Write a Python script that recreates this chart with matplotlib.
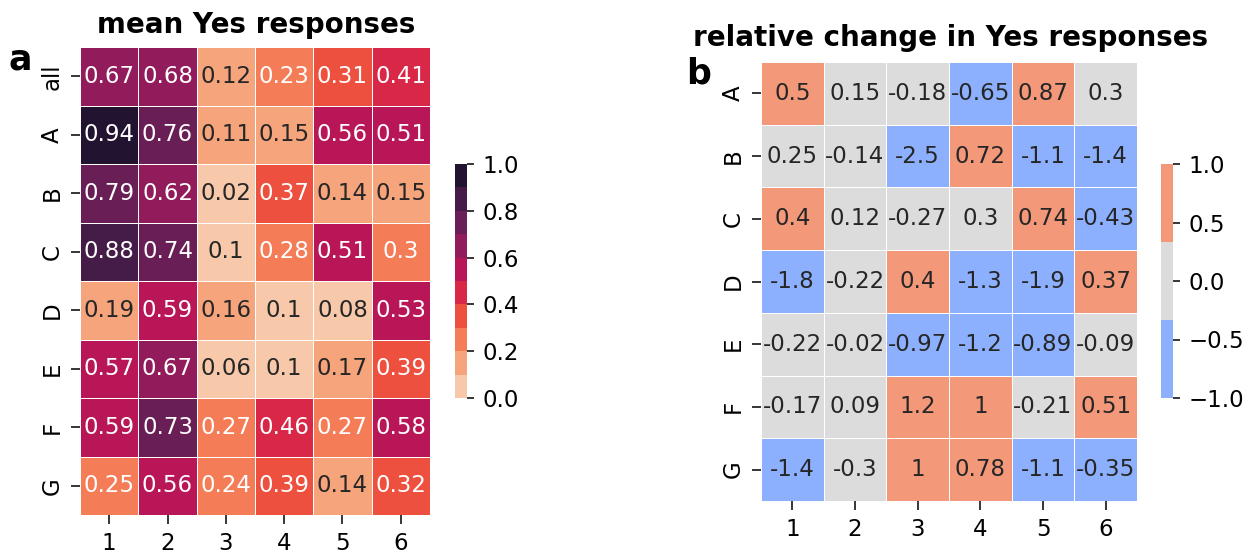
import matplotlib
matplotlib.use("Agg")
import matplotlib.pyplot as plt
import seaborn as sns
import numpy as np
from matplotlib.colors import ListedColormap

# data
cols = ['1', '2', '3', '4', '5', '6']
rows_a = ['all', 'A', 'B', 'C', 'D', 'E', 'F', 'G']
rows_b = ['A', 'B', 'C', 'D', 'E', 'F', 'G']

mean_all = [0.67, 0.68, 0.12, 0.23, 0.31, 0.41]
mean_A = [0.94, 0.76, 0.11, 0.15, 0.56, 0.51]
mean_B = [0.79, 0.62, 0.02, 0.37, 0.14, 0.15]
mean_C = [0.88, 0.74, 0.0999, 0.28, 0.51, 0.2996]
mean_D = [0.19, 0.59, 0.16, 0.0999, 0.08, 0.53]
mean_E = [0.57, 0.67, 0.06, 0.0999, 0.17, 0.39]
mean_F = [0.59, 0.73, 0.27, 0.46, 0.27, 0.58]
mean_G = [0.25, 0.56, 0.24, 0.39, 0.14, 0.32]

rel_A = [0.5, 0.15, -0.18, -0.65, 0.87, 0.3]
rel_B = [0.25, -0.14, -2.5, 0.72, -1.1, -1.4]
rel_C = [0.4, 0.12, -0.27, 0.3, 0.74, -0.43]
rel_D = [-1.8, -0.22, 0.4, -1.3, -1.9, 0.37]
rel_E = [-0.22, -0.02, -0.97, -1.2, -0.89, -0.09]
rel_F = [-0.17, 0.09, 1.2, 1, -0.21, 0.51]
rel_G = [-1.4, -0.3, 1, 0.78, -1.1, -0.35]

mean_yes = np.array([mean_all, mean_A, mean_B, mean_C, mean_D, mean_E, mean_F, mean_G])
rel_change = np.array([rel_A, rel_B, rel_C, rel_D, rel_E, rel_F, rel_G])

W, H = 1255, 554
fig = plt.figure(figsize=(W / 100, H / 100), dpi=100)


def px_axes(x0, y0, x1, y1):
    # pixel box (top-left origin) -> figure axes
    return fig.add_axes([x0 / W, (H - y1) / H, (x1 - x0) / W, (y1 - y0) / H])


ax_a = px_axes(80, 47, 430, 515)
cax_a = px_axes(455, 164, 467, 398)
ax_b = px_axes(761, 62, 1137, 501)
cax_b = px_axes(1161, 164, 1173, 398)

cmap_a = ListedColormap(sns.color_palette("rocket_r", 10))
cmap_b = ListedColormap(sns.color_palette("coolwarm", 3))

sns.heatmap(mean_yes, ax=ax_a, cbar_ax=cax_a, cmap=cmap_a, vmin=0, vmax=1,
            annot=True, annot_kws={'size': 16.5}, linewidths=0.7, linecolor='white',
            xticklabels=cols, yticklabels=rows_a)
sns.heatmap(rel_change, ax=ax_b, cbar_ax=cax_b, cmap=cmap_b, vmin=-1, vmax=1,
            annot=True, annot_kws={'size': 16.5}, linewidths=0.7, linecolor='white',
            xticklabels=cols, yticklabels=rows_b)

for ax, rows, xpad in [(ax_a, rows_a, 6), (ax_b, rows_b, 6)]:
    ax.set_yticklabels(rows, rotation=90, va='center')
    ax.set_xticklabels(cols, rotation=0)
    ax.tick_params(axis='both', labelsize=16.5, length=6.5, width=1.1)
    ax.tick_params(axis='x', pad=xpad)
    ax.tick_params(axis='y', pad=5.5)

for cax in [cax_a, cax_b]:
    cax.tick_params(labelsize=16.5, length=5, width=1.1, pad=6)
    for s in cax.spines.values():
        s.set_visible(False)

# titles and panel letters
fig.text(256 / W, (H - 33) / H, 'mean Yes responses', ha='center', va='baseline',
         fontsize=20, fontweight='bold')
fig.text(951 / W, (H - 46) / H, 'relative change in Yes responses', ha='center',
         va='baseline', fontsize=20, fontweight='bold')
fig.text(9 / W, (H - 70) / H, 'a', ha='left', va='baseline', fontsize=25, fontweight='bold')
fig.text(686 / W, (H - 83) / H, 'b', ha='left', va='baseline', fontsize=25, fontweight='bold')

fig.savefig('out.png', dpi=100)
